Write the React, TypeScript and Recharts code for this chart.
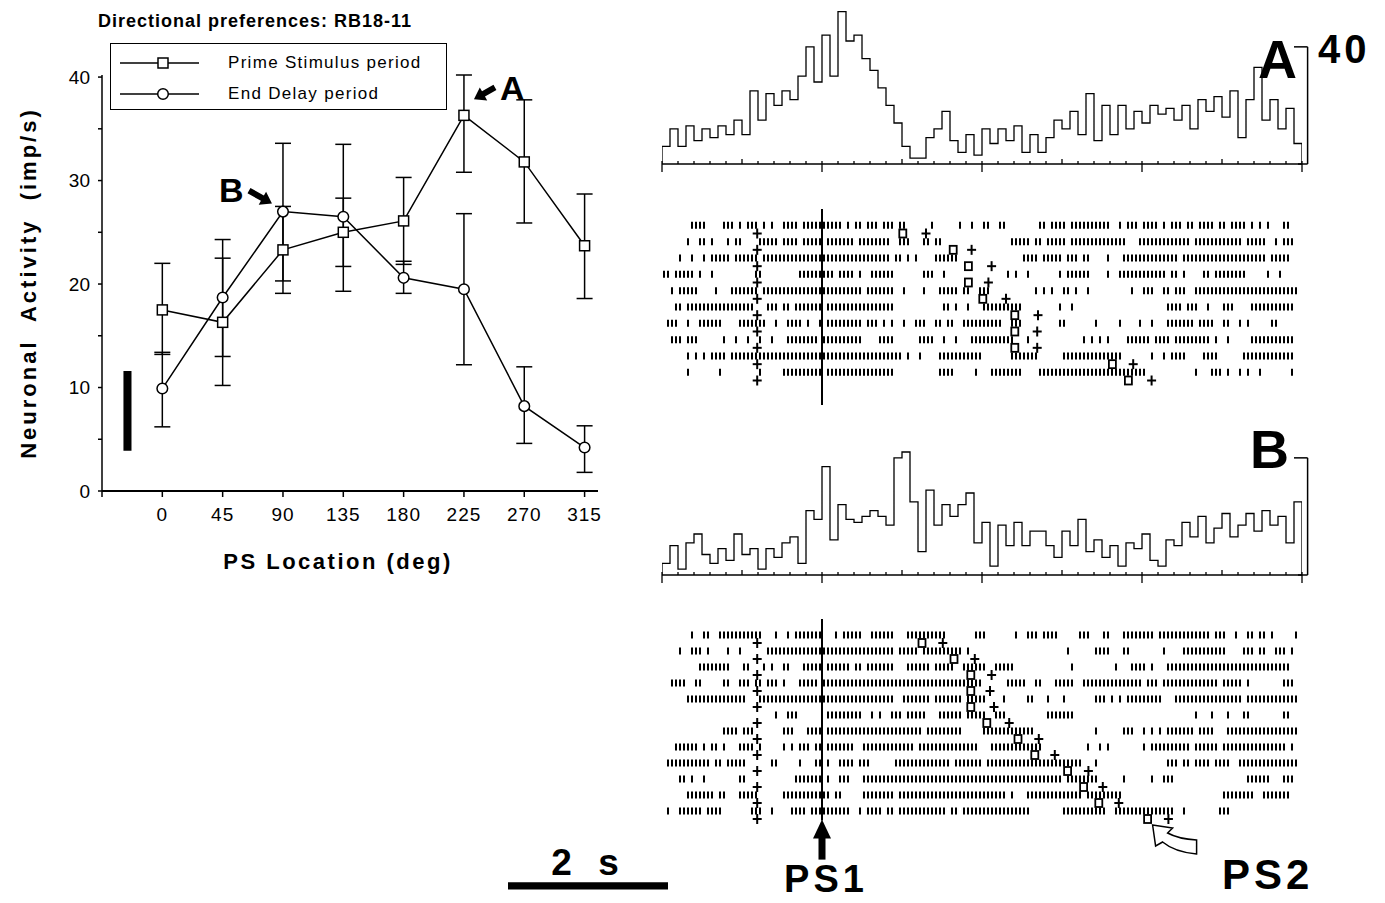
import React from 'react';
import {
  LineChart,
  Line,
  XAxis,
  YAxis,
  ErrorBar,
  ReferenceArea,
  ReferenceDot,
  ReferenceLine,
  Legend,
  ScatterChart,
  Scatter,
} from 'recharts';

const FONT = '"Liberation Sans", Arial, Helvetica, sans-serif';

// ---- left panel: directional tuning ----
const psLocations = [0, 45, 90, 135, 180, 225, 270, 315];
const primeMean = [17.5, 16.3, 23.3, 25.0, 26.1, 36.3, 31.8, 23.7];
const primeLow = [13.2, 10.2, 19.1, 21.7, 21.9, 30.8, 25.9, 18.6];
const primeHigh = [22.0, 22.5, 27.5, 28.3, 30.3, 40.2, 37.8, 28.7];
const delayMean = [9.9, 18.7, 27.0, 26.5, 20.6, 19.5, 8.2, 4.2];
const delayLow = [6.2, 13.0, 20.3, 19.3, 19.1, 12.2, 4.6, 1.8];
const delayHigh = [13.4, 24.3, 33.6, 33.5, 22.2, 26.8, 12.0, 6.3];
const legendLabels = ['Prime Stimulus period', 'End Delay period'];
const xTicks = [-45, 0, 45, 90, 135, 180, 225, 270, 315];
const yTicks = [0, 5, 10, 15, 20, 25, 30, 35, 40];
const scaleBarRate = [3.9, 11.6];

// ---- right panels: histograms (imp/s, 0.1 s bins) ----
const BIN = 0.1;
const histA = [
  6, 12, 6, 13, 8, 12, 9, 13, 10, 15,
  10, 25, 15, 24, 20, 25, 22, 30, 40, 28,
  44, 30, 52, 42, 44, 36, 32, 26, 20, 14,
  6, 2, 2, 9, 12, 18, 8, 4, 10, 3,
  12, 7, 12, 8, 13, 4, 10, 4, 9, 15,
  12, 18, 10, 24, 8, 20, 10, 20, 12, 18,
  14, 20, 17, 19, 15, 20, 12, 22, 18, 23,
  16, 25, 9, 22, 33, 15, 22, 12, 19, 7,
];
const histB = [
  4, 10, 2, 11, 14, 7, 4, 9, 5, 14,
  7, 9, 2, 9, 6, 11, 13, 4, 22, 19,
  37, 12, 24, 19, 18, 20, 22, 20, 17, 40,
  42, 25, 8, 29, 17, 24, 20, 24, 28, 11,
  18, 3, 17, 10, 18, 10, 15, 15, 10, 6,
  15, 10, 19, 8, 12, 6, 10, 3, 11, 9,
  14, 5, 3, 12, 10, 18, 13, 20, 11, 16,
  21, 13, 17, 21, 15, 22, 17, 20, 11, 25,
];
const histScale = 40;

// ---- rasters: spike slots of 0.05 s, one string per trial ----
const SLOT = 0.05;
const rasterARows = [
  '7-10 15-17 19 21-23 25 27 30-33 35-39 40-44 46 48 49 51-53 55-57 59 60 67 74 77 80 81 84 85 94 95 97-100 102-111 114 116-118 120-123 125 127-129 131 132 134-137 139 140 142-145 147 149 151 155 156',
  '6 9 10 12 16 18 19 24-28 30-33 35-39 41-47 49-56 59-61 65 66 68 69 87-91 93 94 96-100 102-115 119-131 133-144 146-150 153 155-157',
  '4 7 10 12-16 18-23 25-56 58 59 61 63 68-73 90-93 95-99 101-103 105 106 111 115-128 130-150 152-156',
  '0 1 3 4-7 9 12 23 24 34-42 44-47 49 52-57 65-67 70 86 88 91 99 101-106 111 114-125 127 128 130 135 136 138-145 151 154',
  '2 4-8 13 17-23 25-49 51-57 60 65 69-73 75 76 79-81 93 95 97 100 101 103 106 117 120-122 125 126 128-130 133-158',
  '3 4 6-22 26-28 30 31 33-39 41-57 70 71 73 76 80-89 99 102 126-129 131-133 136 140-142 147-157',
  '1-3 6 9-14 19-25 28 31-34 36 39 41-49 51-53 55 57 60 63-65 68 69 71 72 75-84 87-89 99 100 108 114 119 122 126-132 134-137 140 141 144 146 152 153',
  '2-4 6-8 15 18 21 24 27 31-38 40-49 54-57 64-67 70 73 77-87 91 105 107 109 111 116-121 123-126 128-136 138 141 147-157',
  '6 8 10 12-15 17-53 54-59 61 64 69-79 87-93 100-114 122 125 127-130 135-138 145-157',
  '6 14 24 30-39 41-57 69-72 78 82-89 94-120 133 137-139 141 144 146 149 157',
];
const rasterBRows = [
  '7 10 11 14-24 28 31 33-39 43 45-49 52-57 61-70 78-80 88 91-93 95-98 104-106 110 111 115-122 124-136 138-140 143 146 147 149 150 152 158',
  '4 7-9 11 16 19 26-57 59-63 65-74 76 101 108-111 115 116 125 130-140 145-147 149 150 153-155 157',
  '9-16 20 21 25 27 30 31 35-39 41-46 48 49 51-57 61-66 68-72 75-80 83-87 102 113 117-120 122 126-156',
  '2-5 8 9 15 16 19-21 23 24 26-28 30 34-38 40-79 86-90 93 94 98-102 105-119 121-123 125-138 140-144 146 155-157',
  '6-20 24-57 60-66 68-74 76-80 85 91 92 96 100 108-110 112 114 116-124 128-144 146-158',
  '28 31-33 41-49 52 54 57-59 61-65 69-74 76-80 83-85 96-102 133 137 141 145 146 155 156',
  '15-18 20-22 30-32 36-39 41-64 66-74 80-92 108 115-117 120 122 124 126-132 134-137 141-158',
  '3-8 10 12 13 15 19-22 24 30 32 34-36 38 39 41-47 50-62 64-78 82-94 106 109 111 120 122-131 133-138 140-155 157',
  '1-11 13 14 16-20 27 28 34 38 39 41 44-47 49-51 58-71 73-79 81-104 108 126-128 130 131 133-136 138-141 144-158',
  '4 5 7 10 19 20 33-39 41 44-46 50-99 101-108 115 122 125-127 146-151 155-157',
  '6-12 14 15 19-23 30-41 43 44 50-57 59-85 87 91-104 106-114 140-147 150-156',
  '1 4-9 11-14 22-24 27 32-35 37-46 49 51-54 56 57 59-70 72 73 75-91 100-110 113-127 130 139-141',
];
const cueTime = 1.19;
const ps1Time = 2;
const ps2OnA = [3.01, 3.64, 3.83, 3.83, 4.01, 4.41, 4.41, 4.41, 5.63, 5.83];
const ps2OffA = [3.3, 3.87, 4.12, 4.08, 4.3, 4.7, 4.69, 4.69, 5.89, 6.12];
const ps2OnB = [3.25, 3.65, 3.86, 3.86, 3.86, 4.06, 4.45, 4.66, 5.07, 5.27, 5.46, 6.07];
const ps2OffB = [3.51, 3.91, 4.12, 4.1, 4.15, 4.34, 4.71, 4.91, 5.33, 5.51, 5.71, 6.33];
const scaleBarStart = -1.925;
const scaleBarSeconds = 2;

const histTicks = Array.from({ length: 41 }, (_, i) => i * 0.2);

const tuningData = psLocations.map((loc, i) => ({
  loc,
  prime: primeMean[i],
  primeErr: [primeMean[i] - primeLow[i], primeHigh[i] - primeMean[i]],
  delay: delayMean[i],
  delayErr: [delayMean[i] - delayLow[i], delayHigh[i] - delayMean[i]],
}));

const parseRuns = (s: string) => {
  const slots = new Set<number>();
  s.split(' ').filter(Boolean).forEach((tok) => {
    const [a, b] = tok.split('-').map(Number);
    const end = b === undefined ? a : b;
    for (let c = a; c <= end; c++) slots.add(c);
  });
  return Array.from(slots);
};

const arrowPts = (x0: number, y0: number, x1: number, y1: number, shaft: number, headL: number, headW: number) => {
  const L = Math.hypot(x1 - x0, y1 - y0);
  const ux = (x1 - x0) / L;
  const uy = (y1 - y0) / L;
  const nx = -uy;
  const ny = ux;
  const bx = x1 - ux * headL;
  const by = y1 - uy * headL;
  const p = [
    [x0 + (nx * shaft) / 2, y0 + (ny * shaft) / 2],
    [bx + (nx * shaft) / 2, by + (ny * shaft) / 2],
    [bx + (nx * headW) / 2, by + (ny * headW) / 2],
    [x1, y1],
    [bx - (nx * headW) / 2, by - (ny * headW) / 2],
    [bx - (nx * shaft) / 2, by - (ny * shaft) / 2],
    [x0 - (nx * shaft) / 2, y0 - (ny * shaft) / 2],
  ];
  return p.map((q) => q.join(',')).join(' ');
};

const SquareDot = (p: any) => (
  <rect key={`sq-${p.index}`} x={p.cx - 5} y={p.cy - 5} width={10} height={10} fill="#fff" stroke="#000" strokeWidth={1.5} />
);
const CircleDot = (p: any) => (
  <circle key={`ci-${p.index}`} cx={p.cx} cy={p.cy} r={5.3} fill="#fff" stroke="#000" strokeWidth={1.5} />
);

const LegendBox = () => (
  <div
    style={{
      width: 337,
      height: 67,
      border: '1.5px solid #000',
      boxSizing: 'border-box',
      background: '#fff',
      fontFamily: FONT,
      fontSize: 17,
      letterSpacing: 1.3,
      color: '#000',
    }}
  >
    {legendLabels.map((label, i) => (
      <div key={label} style={{ display: 'flex', alignItems: 'center', height: 31, marginTop: i === 0 ? 3 : 0 }}>
        <svg width={100} height={20}>
          <line x1={9} x2={88} y1={10} y2={10} stroke="#000" strokeWidth={1.5} />
          {i === 0 ? (
            <rect x={47} y={5} width={10} height={10} fill="#fff" stroke="#000" strokeWidth={1.5} />
          ) : (
            <circle cx={52} cy={10} r={5.3} fill="#fff" stroke="#000" strokeWidth={1.5} />
          )}
        </svg>
        <span style={{ marginLeft: 17 }}>{label}</span>
      </div>
    ))}
  </div>
);

const HistTick = (props: any) => {
  const { x, y, payload } = props;
  const k = Math.round(payload.value * 5);
  if (k % 10 === 0) return <line x1={x} x2={x} y1={y - 3} y2={y + 8} stroke="#000" strokeWidth={1.3} />;
  return <line x1={x} x2={x} y1={y - (k % 5 === 0 ? 5 : 3)} y2={y} stroke="#000" strokeWidth={1.3} />;
};

const HistPanel = ({ values, top }: { values: number[]; top: number }) => {
  const n = values.length;
  const data = [
    { t: 0, v: 0 },
    ...values.map((v, i) => ({ t: i * BIN, v })),
    { t: n * BIN, v: values[n - 1] },
    { t: n * BIN, v: 0 },
  ];
  return (
    <div style={{ position: 'absolute', left: 600, top }}>
      <LineChart width={760} height={190} data={data} margin={{ top: 0, right: 58, bottom: 16, left: 62 }}>
        <XAxis
          dataKey="t"
          type="number"
          domain={[0, 8]}
          ticks={histTicks}
          interval={0}
          tickSize={0}
          tickMargin={0}
          tick={HistTick}
          axisLine={{ stroke: '#000', strokeWidth: 1.5 }}
          height={10}
          allowDataOverflow
        />
        <YAxis hide type="number" domain={[0, 56]} allowDataOverflow />
        <Line type="stepAfter" dataKey="v" stroke="#000" strokeWidth={1.3} dot={false} isAnimationActive={false} />
        <ReferenceLine segment={[{ x: 8.07, y: 0 }, { x: 8.07, y: histScale }]} stroke="#000" strokeWidth={1.5} ifOverflow="visible" />
        <ReferenceLine segment={[{ x: 7.9, y: histScale }, { x: 8.07, y: histScale }]} stroke="#000" strokeWidth={1.5} ifOverflow="visible" />
        <ReferenceLine segment={[{ x: 7.95, y: 0 }, { x: 8.07, y: 0 }]} stroke="#000" strokeWidth={1.5} ifOverflow="visible" />
      </LineChart>
    </div>
  );
};

const SpikeTick = (p: any) => (
  <line x1={p.cx} x2={p.cx} y1={p.cy - 3.5} y2={p.cy + 3.5} stroke="#000" strokeWidth={2} />
);
const PlusMark = (p: any) => (
  <g stroke="#000" strokeWidth={2}>
    <line x1={p.cx - 4.5} x2={p.cx + 4.5} y1={p.cy} y2={p.cy} />
    <line x1={p.cx} x2={p.cx} y1={p.cy - 5} y2={p.cy + 5} />
  </g>
);
const SquareMark = (p: any) => (
  <rect x={p.cx - 3.5} y={p.cy - 4} width={7} height={8} fill="none" stroke="#000" strokeWidth={1.8} />
);

const PS1Arrow = (p: any) => (
  <g fill="#000">
    <polygon points={`${p.cx},${p.cy - 1} ${p.cx - 9},${p.cy + 18} ${p.cx + 9},${p.cy + 18}`} />
    <rect x={p.cx - 3.5} y={p.cy + 17} width={7} height={22} />
  </g>
);
const PS2Arrow = (p: any) => {
  const tx = p.cx + 5;
  const ty = p.cy + 6;
  const d = `M${tx},${ty} L${tx + 20},${ty + 3} L${tx + 15},${ty + 8} Q${tx + 26},${ty + 14} ${tx + 44},${ty + 15} L${tx + 44},${ty + 29} Q${tx + 22},${ty + 27} ${tx + 10},${ty + 17} L${tx + 3},${ty + 21} Z`;
  return <path d={d} fill="#fff" stroke="#000" strokeWidth={1.5} />;
};

const RasterPanel = ({
  rows, onsets, offsets, left, top, width, height, marginLeft, yMax, isB,
}: {
  rows: string[]; onsets: number[]; offsets: number[]; left: number; top: number;
  width: number; height: number; marginLeft: number; yMax: number; isB: boolean;
}) => {
  const spikes = rows.flatMap((s, r) => parseRuns(s).map((c) => ({ t: (c + 0.5) * SLOT, row: r + 1 })));
  const cues = rows.map((_, r) => ({ t: cueTime, row: r + 1.5 }));
  const ons = onsets.map((t, r) => ({ t, row: r + 1.5 }));
  const offs = offsets.map((t, r) => ({ t, row: r + 1.5 }));
  const plotH = isB ? 201.6 : 196;
  return (
    <div style={{ position: 'absolute', left, top }}>
      <ScatterChart width={width} height={height} margin={{ top: 9, right: 58, bottom: height - 9 - plotH, left: marginLeft }}>
        <XAxis hide dataKey="t" type="number" domain={[0, 8]} />
        <YAxis hide dataKey="row" type="number" domain={[0, yMax]} reversed />
        <ReferenceLine x={ps1Time} stroke="#000" strokeWidth={2} />
        <Scatter data={spikes} shape={SpikeTick} isAnimationActive={false} />
        <Scatter data={cues} shape={PlusMark} isAnimationActive={false} />
        <Scatter data={ons} shape={SquareMark} isAnimationActive={false} />
        <Scatter data={offs} shape={PlusMark} isAnimationActive={false} />
        {isB && (
          <ReferenceDot x={ps1Time} y={yMax} r={0} shape={PS1Arrow} ifOverflow="visible" />
        )}
        {isB && (
          <ReferenceDot x={onsets[onsets.length - 1]} y={onsets.length + 0.5} r={0} shape={PS2Arrow} ifOverflow="visible" />
        )}
        {isB && (
          <ReferenceArea
            x1={scaleBarStart}
            x2={scaleBarStart + scaleBarSeconds}
            y1={16.45}
            y2={16.9}
            fill="#000"
            fillOpacity={1}
            stroke="none"
            ifOverflow="visible"
          />
        )}
      </ScatterChart>
    </div>
  );
};

const AnnotA = (p: any) => (
  <g>
    <polygon points={arrowPts(p.cx + 31, p.cy - 28, p.cx + 10, p.cy - 16, 6, 11, 15)} fill="#000" />
    <text x={p.cx + 36} y={p.cy - 15} fontSize={34} fontWeight="bold" fontFamily={FONT} fill="#000">A</text>
  </g>
);
const AnnotB = (p: any) => (
  <g>
    <polygon points={arrowPts(p.cx - 34, p.cy - 21, p.cx - 11, p.cy - 8, 6, 11, 15)} fill="#000" />
    <text x={p.cx - 64} y={p.cy - 10} fontSize={34} fontWeight="bold" fontFamily={FONT} fill="#000">B</text>
  </g>
);

const TuningChart = () => (
  <div style={{ position: 'absolute', left: 0, top: 0 }}>
    <LineChart width={620} height={600} data={tuningData} margin={{ top: 75, right: 22, bottom: 69, left: 42 }}>
      <XAxis
        dataKey="loc"
        type="number"
        domain={[-45, 325]}
        ticks={xTicks}
        interval={0}
        allowDataOverflow
        axisLine={{ stroke: '#000', strokeWidth: 2 }}
        tickLine={{ stroke: '#000', strokeWidth: 1.5 }}
        tickSize={6}
        tickMargin={11}
        tick={{ fill: '#000', fontSize: 19, fontFamily: FONT, letterSpacing: 1 }}
        tickFormatter={(v: number) => (v < 0 ? '' : String(v))}
        height={40}
      />
      <YAxis
        type="number"
        domain={[0, 40]}
        ticks={yTicks}
        interval={0}
        width={60}
        axisLine={{ stroke: '#000', strokeWidth: 1.5 }}
        tickLine={{ stroke: '#000', strokeWidth: 1.5 }}
        tickSize={4}
        tickMargin={8}
        tick={{ fill: '#000', fontSize: 19, fontFamily: FONT }}
        tickFormatter={(v: number) => (v % 10 === 0 ? String(v) : '')}
      />
      <ReferenceArea
        x1={-29}
        x2={-23}
        y1={scaleBarRate[0]}
        y2={scaleBarRate[1]}
        fill="#000"
        fillOpacity={1}
        stroke="none"
        ifOverflow="visible"
      />
      <Line dataKey="prime" stroke="#000" strokeWidth={1.5} dot={false} isAnimationActive={false}>
        <ErrorBar dataKey="primeErr" width={8} stroke="#000" strokeWidth={1.5} direction="y" />
      </Line>
      <Line dataKey="delay" stroke="#000" strokeWidth={1.5} dot={false} isAnimationActive={false}>
        <ErrorBar dataKey="delayErr" width={8} stroke="#000" strokeWidth={1.5} direction="y" />
      </Line>
      <Line dataKey="prime" stroke="none" dot={SquareDot} legendType="none" isAnimationActive={false} />
      <Line dataKey="delay" stroke="none" dot={CircleDot} legendType="none" isAnimationActive={false} />
      <ReferenceDot x={225} y={primeMean[5]} r={0} shape={AnnotA} ifOverflow="visible" />
      <ReferenceDot x={90} y={delayMean[2]} r={0} shape={AnnotB} ifOverflow="visible" />
      <Legend
        content={() => <LegendBox />}
        layout="vertical"
        verticalAlign="middle"
        align="center"
        wrapperStyle={{ left: 110, top: 43, width: 337, height: 67 }}
      />
    </LineChart>
  </div>
);

export default function App() {
  return (
    <div style={{ position: 'relative', width: 1385, height: 903, background: '#fff', overflow: 'hidden' }}>
      <style>{'body{margin:0}'}</style>
      <TuningChart />
      <HistPanel values={histA} top={0} />
      <RasterPanel
        rows={rasterARows}
        onsets={ps2OnA}
        offsets={ps2OffA}
        left={600}
        top={200}
        width={760}
        height={206}
        marginLeft={62}
        yMax={12}
        isB={false}
      />
      <HistPanel values={histB} top={411} />
      <RasterPanel
        rows={rasterBRows}
        onsets={ps2OnB}
        offsets={ps2OffB}
        left={480}
        top={610}
        width={880}
        height={293}
        marginLeft={182}
        yMax={12.6}
        isB
      />
      <svg
        width={1385}
        height={903}
        style={{ position: 'absolute', left: 0, top: 0, pointerEvents: 'none' }}
        fontFamily={FONT}
        fill="#000"
      >
        <text x={98} y={27} fontSize={18} fontWeight="bold" letterSpacing={1}>Directional preferences: RB18-11</text>
        <text
          transform="translate(36,283) rotate(-90)"
          textAnchor="middle"
          fontSize={22}
          fontWeight="bold"
          letterSpacing={3}
          style={{ whiteSpace: 'pre' }}
        >
          {'Neuronal  Activity  (imp/s)'}
        </text>
        <text x={338} y={569} textAnchor="middle" fontSize={22} fontWeight="bold" letterSpacing={2.5}>PS Location (deg)</text>
        <text x={1258} y={78} fontSize={54} fontWeight="bold">A</text>
        <text x={1318} y={63} fontSize={40} fontWeight="bold" letterSpacing={4}>40</text>
        <text x={1250} y={468} fontSize={54} fontWeight="bold">B</text>
        <text x={589} y={875} textAnchor="middle" fontSize={37} fontWeight="bold" letterSpacing={8} style={{ whiteSpace: 'pre' }}>2 s</text>
        <text x={826} y={892} textAnchor="middle" fontSize={38} fontWeight="bold" letterSpacing={4}>PS1</text>
        <text x={1222} y={889} fontSize={42} fontWeight="bold" letterSpacing={4}>PS2</text>
      </svg>
    </div>
  );
}
